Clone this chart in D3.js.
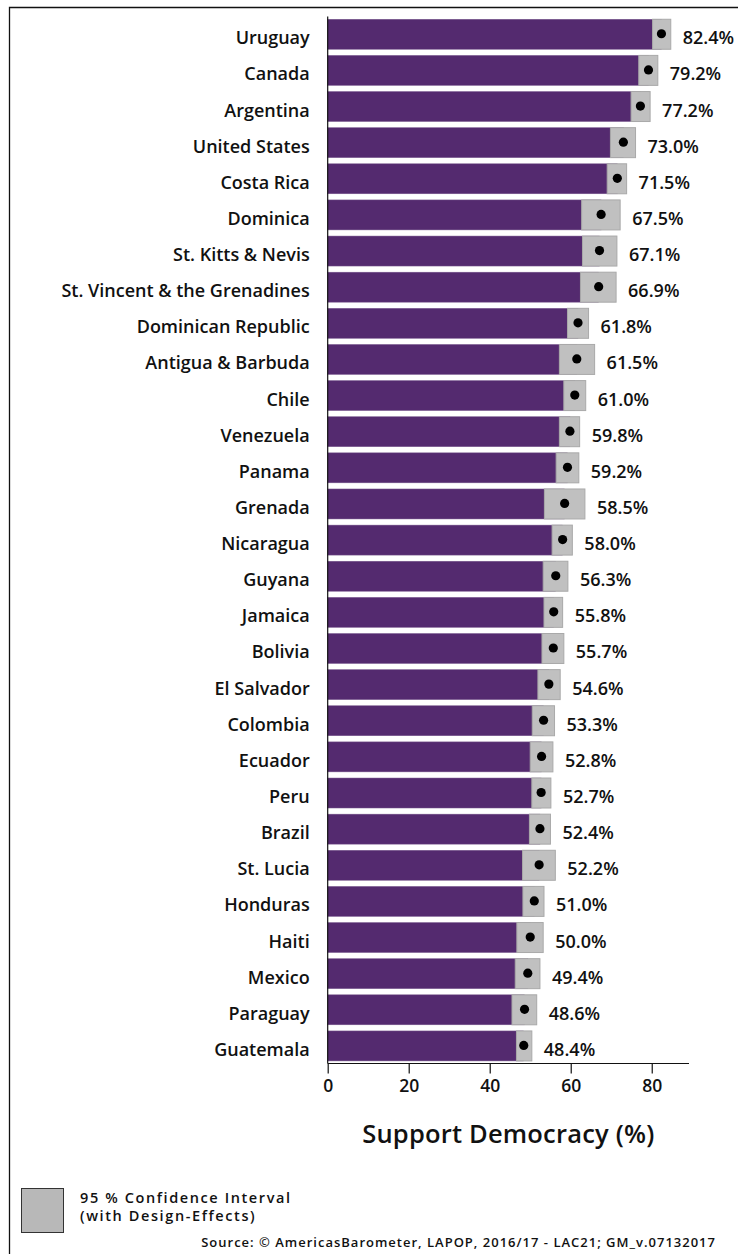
<!DOCTYPE html>
<html>
<head>
<meta charset="utf-8">
<script src="https://cdn.jsdelivr.net/npm/d3@7"></script>
<style>
  html, body { margin: 0; padding: 0; background: #fff; }
  svg { display: block; font-family: "Open Sans", "Noto Sans", sans-serif; }
</style>
</head>
<body>
<svg id="chart" width="738" height="1254"></svg>
<script>
const countries = ["Uruguay","Canada","Argentina","United States","Costa Rica","Dominica","St. Kitts & Nevis","St. Vincent & the Grenadines","Dominican Republic","Antigua & Barbuda","Chile","Venezuela","Panama","Grenada","Nicaragua","Guyana","Jamaica","Bolivia","El Salvador","Colombia","Ecuador","Peru","Brazil","St. Lucia","Honduras","Haiti","Mexico","Paraguay","Guatemala"];
const support = [82.4,79.2,77.2,73.0,71.5,67.5,67.1,66.9,61.8,61.5,61.0,59.8,59.2,58.5,58.0,56.3,55.8,55.7,54.6,53.3,52.8,52.7,52.4,52.2,51.0,50.0,49.4,48.6,48.4];
const ciLow  = [80.2,76.8,74.9,69.8,69.0,62.7,62.9,62.4,59.2,57.2,58.3,57.2,56.4,53.5,55.4,53.2,53.4,52.9,51.9,50.5,50.0,50.4,49.8,48.1,48.2,46.7,46.3,45.5,46.6];
const ciHigh = [84.7,81.5,79.6,76.0,73.8,72.2,71.4,71.2,64.4,65.9,63.7,62.2,62.0,63.5,60.4,59.3,58.0,58.3,57.4,56.0,55.6,55.1,55.0,56.2,53.4,53.2,52.4,51.6,50.4];
const xTicks = [0,20,40,60,80];
const axisTitle = "Support Democracy (%)";
const legendLines = ["95 % Confidence Interval", "(with Design-Effects)"];
const sourceText = "Source: \u00A9 AmericasBarometer, LAPOP, 2016/17 - LAC21; GM_v.07132017";

const data = countries.map((c, i) => ({c, v: support[i], lo: ciLow[i], hi: ciHigh[i]}));

const svg = d3.select("#chart");
const FW = 600;

// frame
svg.append("path")
  .attr("d", "M9.5,1260 V7.5 H745")
  .attr("fill", "none").attr("stroke", "#111").attr("stroke-width", 1.3);

const x = d3.scaleLinear().domain([0, 89.2]).range([327.7, 689]);
const y = d3.scaleBand().domain(countries).range([16.2, 1064]).paddingInner(0.17).paddingOuter(0.085);

const purple = "#542a6f";

// bars
svg.append("g").selectAll("rect").data(data).join("rect")
  .attr("x", x(0))
  .attr("y", d => y(d.c))
  .attr("width", d => x(d.v) - x(0))
  .attr("height", y.bandwidth())
  .attr("fill", purple)
  .attr("stroke", "#7a5a8f").attr("stroke-width", 0.5);

// CI boxes
svg.append("g").selectAll("rect").data(data).join("rect")
  .attr("x", d => x(d.lo))
  .attr("y", d => y(d.c))
  .attr("width", d => x(d.hi) - x(d.lo))
  .attr("height", y.bandwidth())
  .attr("fill", "#c0c0c0")
  .attr("stroke", "#a9a9a9").attr("stroke-width", 1);

// dots
svg.append("g").selectAll("circle").data(data).join("circle")
  .attr("cx", d => x(d.v))
  .attr("cy", d => y(d.c) + y.bandwidth() / 2 - 0.5)
  .attr("r", 4.6)
  .attr("fill", "#000");

// value labels
svg.append("g").selectAll("text").data(data).join("text")
  .attr("x", d => x(d.hi) + 12)
  .attr("y", d => y(d.c) + y.bandwidth() / 2 + 10)
  .attr("font-size", 18).attr("font-weight", FW).attr("fill", "#111")
  .text(d => d.v.toFixed(1) + "%");

// y axis
const yAxis = svg.append("g").attr("transform", `translate(${x(0)},0)`)
  .call(d3.axisLeft(y).tickSize(0).tickPadding(18));
yAxis.select(".domain").attr("stroke", "#111").attr("stroke-width", 1.2)
  .attr("d", `M0,16.5V1063.5`);
yAxis.selectAll(".tick text")
  .attr("font-size", 18).attr("font-weight", FW).attr("fill", "#111")
  .attr("font-family", "'Open Sans', 'Noto Sans', sans-serif")
  .attr("dy", "0em").attr("y", 0)
  .attr("transform", "translate(0,10)");

// x axis
const xAxis = svg.append("g").attr("transform", `translate(0,1063.5)`)
  .call(d3.axisBottom(x).tickValues(xTicks).tickSize(10).tickPadding(6).tickFormat(d3.format("d")));
xAxis.select(".domain").attr("stroke", "#111").attr("stroke-width", 1.2)
  .attr("d", `M${x(0)},0H${x(89.2)}`);
xAxis.selectAll(".tick line").attr("stroke", "#111").attr("stroke-width", 1.2);
xAxis.selectAll("text")
  .attr("font-size", 17.5).attr("font-weight", FW).attr("fill", "#111")
  .attr("font-family", "'Open Sans', 'Noto Sans', sans-serif");

// axis title
svg.append("text")
  .attr("x", (x(0) + x(89.2)) / 2)
  .attr("y", 1143)
  .attr("text-anchor", "middle")
  .attr("font-size", 25.5).attr("font-weight", FW).attr("fill", "#111")
  .attr("letter-spacing", 0.2)
  .text(axisTitle);

// legend
svg.append("rect")
  .attr("x", 21.5).attr("y", 1188.5).attr("width", 42).attr("height", 44)
  .attr("fill", "#b8b8b8").attr("stroke", "#333").attr("stroke-width", 1);
svg.append("g").selectAll("text").data(legendLines).join("text")
  .attr("x", 80)
  .attr("y", (d, i) => 1203 + i * 17.5)
  .attr("font-size", 14.5).attr("font-weight", FW).attr("fill", "#111")
  .attr("letter-spacing", 1.6)
  .text(d => d);

svg.append("text")
  .attr("x", 716).attr("y", 1247)
  .attr("text-anchor", "end")
  .attr("font-size", 13).attr("font-weight", FW).attr("fill", "#111")
  .attr("letter-spacing", 1.0)
  .text(sourceText);
</script>
</body>
</html>
